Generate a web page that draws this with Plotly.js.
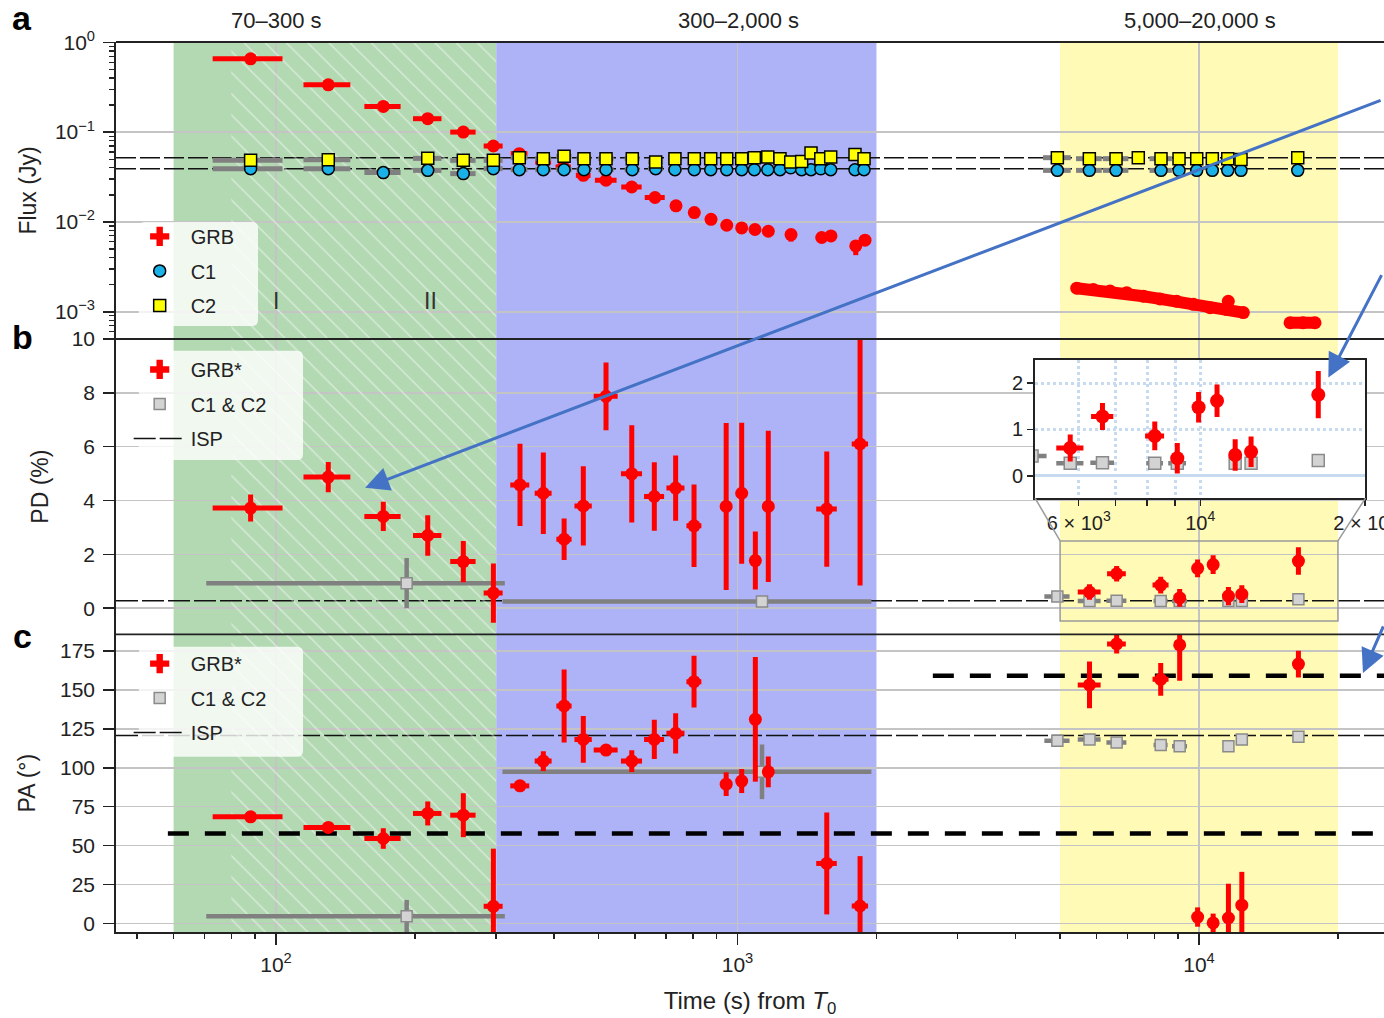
<!DOCTYPE html>
<html>
<head>
<meta charset="utf-8">
<script src="https://cdn.plot.ly/plotly-3.0.1.min.js"></script>
<style>
  html, body { margin: 0; padding: 0; background: #ffffff; }
  #chart { width: 1384px; height: 1018px; }
</style>
</head>
<body>
<div id="chart"></div>
<script>
// ---------------------------------------------------------------
// GRB afterglow: flux (a), polarization degree (b) and angle (c)
// ---------------------------------------------------------------
const FONT = 'Liberation Sans, Arial, Helvetica, sans-serif';
const INK = '#222222';
const RED = '#ff0000';
const GREY = '#808080';

// Observation windows (s from T0)
const greenWindow = [60, 300];
const hatchWindow = [80, 300];
const blueWindow = [300, 2000];
const yellowWindow = [5000, 20000];
const windowLabels = ['70–300 s', '300–2,000 s', '5,000–20,000 s'];
const windowLabelAt = [100, 1005, 10050];

// ---- Panel a: flux (Jy) ----
const grbT = [88.1, 129.8, 170.8, 213.2, 254.6, 295.8,
  336.6, 379.5, 419.4, 463.4, 518.9, 589.8, 662.5, 735.7, 806.1, 876.2,
  947.6, 1021, 1091, 1166, 1306, 1522, 1594, 1804, 1889, 11572];
const grbF = [0.654, 0.336, 0.193, 0.141, 0.100, 0.070,
  0.0575, 0.0464, 0.0409, 0.0330, 0.0291, 0.0245, 0.0187, 0.0151, 0.0127, 0.0107,
  0.00919, 0.00857, 0.00824, 0.00788, 0.00724, 0.00671, 0.00699, 0.00541, 0.00626, 0.00131];
const grbTErr = [15.2, 15.1, 15.4, 15.1, 16.1, 14,
  14, 15, 16, 17, 28, 30, 33, 20, 20, 15,
  15, 15, 15, 15, 20, 20, 20, 25, 25, 0];
const grbFErrDown = [0, 0, 0, 0, 0, 0,
  0, 0, 0, 0, 0, 0, 0, 0, 0, 0,
  0, 0, 0, 0, 0.0012, 0, 0, 0.00114, 0, 0];

// Dense late-time photometry, read along the two tracks
const grbLateAT = [5433, 5902, 6415, 6972, 7573, 8232, 8948, 9721, 10563, 11482, 12474];
const grbLateAF = [0.00183, 0.00177, 0.00170, 0.00163, 0.00149, 0.00139, 0.00131, 0.00121, 0.00111, 0.00106, 0.00098];
const grbLateBT = [15747, 16800, 17838];
const grbLateBF = [0.000755, 0.000755, 0.000755];

// Comparison stars
const c1T = [88.1, 129.8, 170.8, 213.2, 254.6, 295.8,
  336.6, 379.5, 420.9, 464.9, 518.9, 591.6, 664.8, 731.8, 806.1, 874.8, 947.6,
  1021, 1087.5, 1163, 1236, 1304, 1377, 1443, 1515, 1592, 1797, 1880,
  4932, 5785, 6609, 8272, 9051, 9886, 10686, 11541, 12330, 16364];
const c1F = [0.0392, 0.0392, 0.0354, 0.0375, 0.0345, 0.0392,
  0.0382, 0.0382, 0.0382, 0.0382, 0.0382, 0.0382, 0.0392, 0.0382, 0.0382, 0.0382, 0.0382,
  0.0382, 0.0382, 0.0382, 0.0382, 0.0400, 0.0382, 0.0382, 0.0390, 0.0382, 0.0382, 0.0382,
  0.0375, 0.0375, 0.0375, 0.0375, 0.0375, 0.0375, 0.0375, 0.0375, 0.0375, 0.0375];
const c1TErr = [15.2, 15.1, 15.4, 15.1, 16.1, 14,
  14, 15, 16, 17, 20, 22, 25, 25, 25, 25, 25,
  25, 25, 30, 30, 30, 30, 30, 30, 30, 35, 35,
  340, 370, 420, 460, 0, 0, 0, 0, 0, 0];
const c2T = [88.1, 129.8, 213.2, 254.6, 295.8,
  336.6, 379.5, 420.9, 464.9, 518.9, 591.6, 664.8, 731.8, 806.1, 874.8, 947.6,
  1021, 1087.5, 1163, 1236, 1304, 1377, 1443, 1515, 1592, 1797, 1880,
  4932, 5785, 6609, 7386, 8272, 9051, 9886, 10686, 11541, 12330, 16364];
const c2F = [0.0485, 0.0493, 0.0510, 0.0485, 0.0485,
  0.0519, 0.0506, 0.0537, 0.0506, 0.0506, 0.0506, 0.0464, 0.0506, 0.0506, 0.0506, 0.0506,
  0.0506, 0.0519, 0.0527, 0.0506, 0.0464, 0.0472, 0.0585, 0.0506, 0.0527, 0.0565, 0.0506,
  0.0519, 0.0506, 0.0506, 0.0519, 0.0506, 0.0506, 0.0506, 0.0506, 0.0506, 0.0495, 0.0519];
const c2TErr = [15.2, 15.1, 15.1, 16.1, 14,
  14, 15, 16, 17, 20, 22, 25, 25, 25, 25, 25,
  25, 25, 30, 30, 30, 30, 30, 30, 30, 35, 35,
  340, 370, 420, 0, 460, 0, 0, 0, 0, 0, 0];
const c1Level = 0.0392;
const c2Level = 0.0519;

// ---- Panels b & c: polarimetry ----
const polT = [88.1, 129.8, 170.8, 213.2, 254.6, 295.8,
  337.8, 379.5, 421, 463.3, 518.9, 590, 660.3, 734.4, 805, 945, 1021, 1093, 1166, 1561, 1843,
  5790, 6630, 8260, 9080, 9930, 10730, 11580, 12380, 16420];
const polTErr = [15.2, 15.1, 15.4, 15.1, 16.1, 14,
  16, 16, 16, 20, 31, 31, 33, 33, 30, 25, 25, 25, 25, 80, 75,
  330, 310, 330, 150, 150, 150, 150, 150, 150];
const pdV = [3.72, 4.87, 3.41, 2.70, 1.73, 0.56,
  4.58, 4.27, 2.56, 3.80, 7.87, 4.99, 4.15, 4.46, 3.06, 3.78, 4.27, 1.77, 3.78, 3.68, 6.10,
  0.60, 1.28, 0.86, 0.38, 1.48, 1.62, 0.45, 0.52, 1.75];
const pdErr = [0.50, 0.56, 0.54, 0.75, 0.77, 1.10,
  1.53, 1.51, 0.77, 1.47, 1.26, 1.81, 1.27, 1.21, 1.53, 3.10, 2.62, 1.08, 2.81, 2.14, 5.26,
  0.29, 0.29, 0.31, 0.33, 0.33, 0.35, 0.34, 0.33, 0.51];
const paV = [68.5, 61.7, 54.6, 70.7, 69.6, 11.1,
  88.4, 104.3, 139.7, 118.2, 111.4, 104.3, 118.2, 122.1, 155.3, 89.5, 91.5, 131.1, 97.4, 38.6, 11.3,
  153.2, 179.5, 156.8, 178.9, 4.2, 0.4, 3.6, 11.8, 166.6];
const paErr = [3.2, 3.0, 6.6, 7.7, 14.1, 37,
  3, 6.4, 23.4, 15, 3, 7, 12.6, 12.9, 16.6, 7.6, 7.7, 40, 9.9, 32.7, 32,
  15, 6.1, 10.5, 23, 6.2, 6, 22, 21.4, 8.6];

// C1 & C2 combined
const ccT = [191.9, 1130, 4932, 5790, 6630, 8260, 9080, 11580, 12380, 16420];
const ccTErr = [121.3, 820.5, 310, 330, 330, 290, 340, 0, 0, 0];
const ccPD = [0.93, 0.25, 0.43, 0.27, 0.28, 0.27, 0.27, 0.27, 0.27, 0.33];
const ccPDErr = [0.93, 0.05, 0.04, 0.04, 0.04, 0.04, 0.04, 0.04, 0.04, 0.04];
const ccPA = [4.7, 97.4, 117.4, 118.2, 116.3, 114.6, 113.9, 113.9, 118.2, 119.9];
const ccPAErr = [10.5, 17.5, 2, 2, 2, 2, 2, 2, 2, 2];

// Interstellar polarization and reference angles
const ispPD = 0.28;
const ispPA = 120.8;
const paLevels = [57.8, 159.1];
const paLevelStart = [58.3, 2650];

// Inset zoom window
const zoomT = [5000, 20000];
const zoomPD = [-0.48, 2.5];
const insetTicks = [6000, 10000, 20000];
const insetTickText = ['6 × 10<sup>3</sup>', '10<sup>4</sup>', '2 × 10<sup>4</sup>'];
const insetMinorTicks = [7000, 8000, 9000];

// ---------------------------------------------------------------
// Geometry
// ---------------------------------------------------------------
const FIG_W = 1384, FIG_H = 1018;
const MARGIN = { l: 116, r: 0, t: 42, b: 86 };
const PLOT_W = FIG_W - MARGIN.l - MARGIN.r;
const PLOT_H = FIG_H - MARGIN.t - MARGIN.b;
const xRange = [1.6533, 4.4008];
const rangeA = [-3.303, 0.003];
const rangeB = [-0.97, 10.0];
const rangeC = [-5.4, 185.7];
const domA = [0.6663, 1];
const domB = [0.3345, 0.6663];
const domC = [0, 0.3345];
const insetDomX = [0.7248, 0.9854];
const insetDomY = [0.4876, 0.6427];
const tMin = Math.pow(10, xRange[0]);
const tMax = Math.pow(10, xRange[1]);
const log10 = Math.log10;

// legend panels: [left, top, right, bottom] in paper fractions
const legendBoxes = [
  [0.018, 0.7978, 0.112, 0.6809],
  [0.018, 0.6531, 0.1475, 0.5303],
  [0.018, 0.3206, 0.1475, 0.1969]
];

const inWin = (t, w) => t >= w[0] && t <= w[1];
function pick(arr, idx) { return idx.map(i => arr[i]); }

// ---------------------------------------------------------------
// Traces
// ---------------------------------------------------------------
const traces = [];

// hatched sub-window, one polygon per panel
[['y', [1e-5, 10]], ['y2', [-5, 20]], ['y3', [-20, 250]]].forEach(([ax, yl]) => {
  traces.push({
    type: 'scatter', mode: 'none', xaxis: 'x', yaxis: ax,
    x: [hatchWindow[0], hatchWindow[1], hatchWindow[1], hatchWindow[0], hatchWindow[0]],
    y: [yl[0], yl[0], yl[1], yl[1], yl[0]],
    fill: 'toself', fillcolor: 'rgba(0,0,0,0)',
    fillpattern: { shape: '\\', fgcolor: '#ffffff', bgcolor: 'rgba(0,0,0,0)',
                   size: 15, solidity: 0.09, fillmode: 'overlay' },
    hoverinfo: 'skip', showlegend: false
  });
});

// reference PA levels (thick dashes) in panel c
paLevels.forEach((lv, i) => {
  traces.push({
    type: 'scatter', mode: 'lines', xaxis: 'x', yaxis: 'y3',
    x: [paLevelStart[i], tMax], y: [lv, lv],
    line: { color: '#000', width: 4.5, dash: '21px,16px' },
    hoverinfo: 'skip', showlegend: false
  });
});

const redErr = (arr, extra) => Object.assign({ type: 'data', array: arr, color: RED, thickness: 5, width: 0 }, extra || {});
const greyErr = (arr, extra) => Object.assign({ type: 'data', array: arr, color: GREY, thickness: 5, width: 0 }, extra || {});

// Panel a ----------------------------------------------------
traces.push({
  type: 'scatter', mode: 'lines+markers', xaxis: 'x', yaxis: 'y',
  x: grbLateAT, y: grbLateAF, line: { color: RED, width: 12 },
  marker: { color: RED, size: 13 }, showlegend: false
});
traces.push({
  type: 'scatter', mode: 'lines+markers', xaxis: 'x', yaxis: 'y',
  x: grbLateBT, y: grbLateBF, line: { color: RED, width: 12 },
  marker: { color: RED, size: 13 }, showlegend: false
});
traces.push({
  type: 'scatter', mode: 'markers', xaxis: 'x', yaxis: 'y', name: 'GRB',
  x: grbT, y: grbF,
  error_x: redErr(grbTErr),
  error_y: redErr(grbF.map(() => 0), { symmetric: false, arrayminus: grbFErrDown }),
  marker: { color: RED, size: 13 }, showlegend: false
});
traces.push({
  type: 'scatter', mode: 'markers', xaxis: 'x', yaxis: 'y', name: 'C1',
  x: c1T, y: c1F, error_x: greyErr(c1TErr),
  marker: { color: '#1ab0e8', size: 12, line: { color: '#000', width: 1.5 } },
  legend: 'legend', legendgroup: 'a2', legendrank: 2
});
traces.push({
  type: 'scatter', mode: 'markers', xaxis: 'x', yaxis: 'y', name: 'C2',
  x: c2T, y: c2F, error_x: greyErr(c2TErr),
  marker: { symbol: 'square', color: '#ffff00', size: 12, line: { color: '#000', width: 1.5 } },
  legend: 'legend', legendgroup: 'a3', legendrank: 3
});
traces.push({
  type: 'scatter', mode: 'markers', xaxis: 'x', yaxis: 'y', name: 'GRB',
  x: [null], y: [null], marker: { symbol: 'cross', color: RED, size: 16 },
  legend: 'legend', legendgroup: 'a1', legendrank: 1
});

// Panels b and c ---------------------------------------------
const ccStyle = { symbol: 'square', color: '#d3d3d3', size: 11, line: { color: '#8a8a8a', width: 1.5 } };
[['y2', pdV, pdErr, ccPD, ccPDErr, 'legend2'], ['y3', paV, paErr, ccPA, ccPAErr, 'legend3']]
  .forEach(([ax, v, e, cv, ce, lg]) => {
    traces.push({
      type: 'scatter', mode: 'markers', xaxis: 'x', yaxis: ax, name: 'C1 & C2',
      x: ccT, y: cv, error_x: greyErr(ccTErr, { thickness: 4.5 }), error_y: greyErr(ce, { thickness: 4.5 }),
      marker: ccStyle, legend: lg, legendgroup: lg + 'b', legendrank: 2
    });
    traces.push({
      type: 'scatter', mode: 'markers', xaxis: 'x', yaxis: ax, name: 'GRB*',
      x: polT, y: v, error_x: redErr(polTErr), error_y: redErr(e),
      marker: { color: RED, size: 13 }, showlegend: false
    });
    traces.push({
      type: 'scatter', mode: 'markers', xaxis: 'x', yaxis: ax, name: 'GRB*',
      x: [null], y: [null], marker: { symbol: 'cross', color: RED, size: 16 },
      legend: lg, legendgroup: lg + 'a', legendrank: 1
    });
  });

// Inset: late-time PD ----------------------------------------
const lateIdx = polT.map((t, i) => i).filter(i => inWin(polT[i], zoomT));
const lateCC = ccT.map((t, i) => i).filter(i => ccT[i] > 4000);
traces.push({
  type: 'scatter', mode: 'markers', xaxis: 'x2', yaxis: 'y4',
  x: pick(ccT, lateCC), y: pick(ccPD, lateCC),
  error_x: greyErr(pick(ccTErr, lateCC), { thickness: 4.5 }),
  marker: Object.assign({}, ccStyle, { size: 12 }), showlegend: false
});
traces.push({
  type: 'scatter', mode: 'markers', xaxis: 'x2', yaxis: 'y4',
  x: pick(polT, lateIdx), y: pick(pdV, lateIdx),
  error_x: redErr(pick(polTErr, lateIdx)), error_y: redErr(pick(pdErr, lateIdx)),
  marker: { color: RED, size: 14 }, showlegend: false
});

// ---------------------------------------------------------------
// Shapes
// ---------------------------------------------------------------
const shapes = [];
[[greenWindow, '#b3d9b3'], [blueWindow, '#adb3f6'], [yellowWindow, '#fffab5']].forEach(([w, c]) => {
  shapes.push({ type: 'rect', xref: 'x', yref: 'paper', x0: w[0], x1: w[1], y0: 0, y1: 1,
                fillcolor: c, line: { width: 0 }, layer: 'below' });
});
// comparison-star mean flux levels
[c1Level, c2Level].forEach(lv => {
  shapes.push({ type: 'line', xref: 'x', yref: 'y', x0: tMin, x1: tMax, y0: lv, y1: lv,
                line: { color: '#111', width: 1.5, dash: '20px,4px' }, layer: 'between' });
});
// interstellar polarization
shapes.push({ type: 'line', xref: 'x', yref: 'y2', x0: tMin, x1: tMax, y0: ispPD, y1: ispPD,
              line: { color: '#111', width: 1.5, dash: '22px,4px' }, layer: 'between',
              showlegend: true, name: 'ISP', legend: 'legend2', legendgroup: 'l2c', legendrank: 3 });
shapes.push({ type: 'line', xref: 'x', yref: 'y3', x0: tMin, x1: tMax, y0: ispPA, y1: ispPA,
              line: { color: '#111', width: 1.5, dash: '22px,4px' }, layer: 'between',
              showlegend: true, name: 'ISP', legend: 'legend3', legendgroup: 'l3c', legendrank: 3 });
// panel separators
[domA[1], domB[1], domC[1]].forEach(y => {
  shapes.push({ type: 'line', xref: 'paper', yref: 'paper', x0: 0, x1: 1, y0: y, y1: y,
                line: { color: INK, width: 1.8 }, layer: 'above' });
});
// zoom box and connectors to the inset
shapes.push({ type: 'rect', xref: 'x', yref: 'y2', x0: zoomT[0], x1: zoomT[1], y0: zoomPD[0], y1: zoomPD[1],
              line: { color: '#9a9a9a', width: 1.5 }, fillcolor: 'rgba(0,0,0,0)', layer: 'above' });
const pxX = t => (log10(t) - xRange[0]) / (xRange[1] - xRange[0]);
const pyB = v => domB[0] + (v - rangeB[0]) / (rangeB[1] - rangeB[0]) * (domB[1] - domB[0]);
[[insetDomX[0], zoomT[0]], [insetDomX[1], zoomT[1]]].forEach(([xi, t]) => {
  shapes.push({ type: 'line', xref: 'paper', yref: 'paper', x0: xi, y0: insetDomY[0], x1: pxX(t), y1: pyB(zoomPD[1]),
                line: { color: '#9a9a9a', width: 1.5 }, layer: 'above' });
});
// translucent rounded panels behind the legends
function roundedRect(x0, y1, x1, y0, rPx) {
  const rx = rPx / PLOT_W, ry = rPx / PLOT_H;
  return 'M' + (x0 + rx) + ',' + y1 + ' L' + (x1 - rx) + ',' + y1 +
         ' Q' + x1 + ',' + y1 + ' ' + x1 + ',' + (y1 - ry) +
         ' L' + x1 + ',' + (y0 + ry) + ' Q' + x1 + ',' + y0 + ' ' + (x1 - rx) + ',' + y0 +
         ' L' + (x0 + rx) + ',' + y0 + ' Q' + x0 + ',' + y0 + ' ' + x0 + ',' + (y0 + ry) +
         ' L' + x0 + ',' + (y1 - ry) + ' Q' + x0 + ',' + y1 + ' ' + (x0 + rx) + ',' + y1 + ' Z';
}
legendBoxes.forEach(b => {
  shapes.push({ type: 'path', xref: 'paper', yref: 'paper', path: roundedRect(b[0], b[1], b[2], b[3], 6),
                fillcolor: 'rgba(255,255,255,0.8)', line: { width: 0 }, layer: 'above' });
});

// ---------------------------------------------------------------
// Annotations
// ---------------------------------------------------------------
const annotations = [];
windowLabels.forEach((s, i) => {
  annotations.push({ text: s, xref: 'x', yref: 'paper', x: log10(windowLabelAt[i]), y: 1,
                     yanchor: 'bottom', yshift: 7, showarrow: false, font: { size: 22, color: INK } });
});
[['a', 1.027], ['b', 0.6685], ['c', 0.3326]].forEach(([s, y]) => {
  annotations.push({ text: '<b>' + s + '</b>', xref: 'paper', yref: 'paper', x: -0.074, y: y,
                     xanchor: 'center', yanchor: 'middle', showarrow: false, font: { size: 34, color: '#000' } });
});
[['I', 100], ['II', 216]].forEach(([s, t]) => {
  annotations.push({ text: s, xref: 'x', yref: 'y', x: log10(t), y: -2.88, showarrow: false,
                     font: { size: 23, color: '#333' } });
});
const arrowStyle = { text: '', showarrow: true, arrowhead: 2, arrowsize: 1.6, arrowwidth: 3,
                     arrowcolor: '#4472c4', standoff: 0 };
annotations.push(Object.assign({ xref: 'x', yref: 'y2', x: log10(156), y: 4.47, ax: 1017, ay: -388 }, arrowStyle));
annotations.push(Object.assign({ xref: 'x2', yref: 'y4', x: log10(17130), y: 2.12, ax: 54, ay: -104 }, arrowStyle));
annotations.push(Object.assign({ xref: 'x', yref: 'y3', x: log10(22660), y: 160.9, ax: 40, ay: -48 }, arrowStyle));

// ---------------------------------------------------------------
// Layout
// ---------------------------------------------------------------
const tickFont = { size: 21, color: INK, family: FONT };
const grid = { showgrid: true, gridcolor: '#c4c4c4', gridwidth: 1.5, zeroline: false };
const frame = { showline: true, linecolor: INK, linewidth: 1.8, ticks: 'outside', ticklen: 11,
                tickwidth: 1.5, tickcolor: INK, tickfont: tickFont, ticklabelstandoff: 4 };
const legendBase = { xanchor: 'left', yanchor: 'top', x: 0.010, bgcolor: 'rgba(0,0,0,0)',
                     borderwidth: 0, font: { size: 20, color: INK, family: FONT },
                     traceorder: 'grouped', tracegroupgap: 5.5, itemsizing: 'trace', itemwidth: 52 };
const insetGrid = { showgrid: true, gridcolor: '#c6dbef', gridwidth: 3, griddash: 'dot' };

const layout = {
  width: FIG_W, height: FIG_H,
  margin: MARGIN,
  paper_bgcolor: '#ffffff', plot_bgcolor: '#ffffff',
  font: { family: FONT, color: INK, size: 21 },
  showlegend: true,
  xaxis: Object.assign({}, grid, frame, {
    type: 'log', range: xRange, domain: [0, 1], anchor: 'y3',
    tickvals: [100, 1000, 10000], ticktext: ['10<sup>2</sup>', '10<sup>3</sup>', '10<sup>4</sup>'],
    ticklabelstandoff: 2,
    minor: { ticks: 'outside', ticklen: 5, tickwidth: 1.5, tickcolor: INK, dtick: 'D1', showgrid: false },
    title: { text: 'Time (s) from <i>T</i><sub>0</sub>', font: { size: 24, color: INK }, standoff: 19 }
  }),
  yaxis: Object.assign({}, grid, frame, {
    type: 'log', range: rangeA, domain: domA, anchor: 'x',
    tickvals: [1, 0.1, 0.01, 0.001],
    ticktext: ['10<sup>0</sup>', '10<sup>−1</sup>', '10<sup>−2</sup>', '10<sup>−3</sup>'],
    minor: { ticks: 'outside', ticklen: 5, tickwidth: 1.2, tickcolor: INK, dtick: 'D1', showgrid: false },
    title: { text: 'Flux (Jy)', font: { size: 23, color: INK }, standoff: 12 }
  }),
  yaxis2: Object.assign({}, grid, frame, {
    range: rangeB, domain: domB, anchor: 'x', tick0: 0, dtick: 2,
    title: { text: 'PD (%)', font: { size: 23, color: INK }, standoff: 16 }
  }),
  yaxis3: Object.assign({}, grid, frame, {
    range: rangeC, domain: domC, anchor: 'x', tick0: 0, dtick: 25,
    title: { text: 'PA (°)', font: { size: 23, color: INK }, standoff: 18 }
  }),
  xaxis2: Object.assign({}, insetGrid, {
    type: 'log', domain: insetDomX, anchor: 'y4',
    range: [log10(zoomT[0]) - 0.0005, log10(zoomT[1]) + 0.0005],
    tickvals: insetTicks, ticktext: insetTickText, ticklabeloverflow: 'allow',
    minor: Object.assign({}, insetGrid, { tickvals: insetMinorTicks, ticks: 'outside', ticklen: 6,
                                          tickwidth: 1.5, tickcolor: INK }),
    zeroline: false,
    showline: true, mirror: true, linecolor: INK, linewidth: 1.8,
    ticks: 'outside', ticklen: 6, tickwidth: 1.5, tickcolor: INK, tickfont: { size: 20, color: INK, family: FONT }
  }),
  yaxis4: Object.assign({}, insetGrid, {
    domain: insetDomY, anchor: 'x2', range: zoomPD, tickvals: [0, 1, 2],
    zeroline: true, zerolinecolor: '#c6dbef', zerolinewidth: 3,
    showline: true, mirror: true, linecolor: INK, linewidth: 1.8,
    ticks: 'outside', ticklen: 6, tickwidth: 1.5, tickcolor: INK, tickfont: { size: 20, color: INK, family: FONT }
  }),
  legend: Object.assign({}, legendBase, { y: 0.8035 }),
  legend2: Object.assign({}, legendBase, { y: 0.654 }),
  legend3: Object.assign({}, legendBase, { y: 0.3235 }),
  shapes: shapes,
  annotations: annotations
};

Plotly.newPlot('chart', traces, layout, { displayModeBar: false, staticPlot: true });
</script>
</body>
</html>
